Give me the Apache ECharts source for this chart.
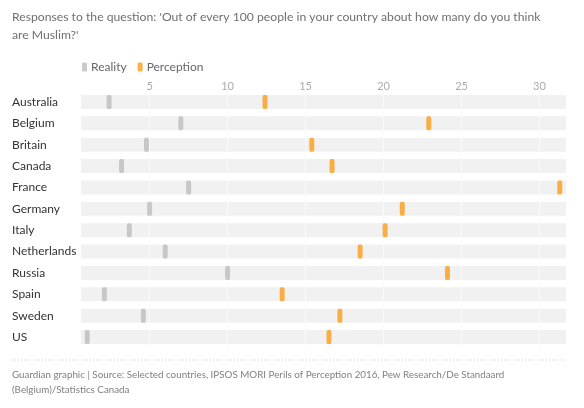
<!DOCTYPE html>
<html><head><meta charset="utf-8">
<script src="https://cdn.jsdelivr.net/npm/echarts@6/dist/echarts.min.js"></script>
<style>html,body{margin:0;padding:0;background:#fff}#c{width:584px;height:408px}</style>
</head><body><div id="c"></div>
<script>
const countries = ['Australia','Belgium','Britain','Canada','France','Germany','Italy','Netherlands','Russia','Spain','Sweden','US'];
const reality = [2.4, 7, 4.8, 3.2, 7.5, 5, 3.7, 6, 10, 2.1, 4.6, 1];
const perception = [12.4, 22.9, 15.4, 16.7, 31.3, 21.2, 20.1, 18.5, 24.1, 13.5, 17.2, 16.5];
const tickValues = [5, 10, 15, 20, 25, 30];
const titleText = "Responses to the question: 'Out of every 100 people in your country about how many do you think\nare Muslim?'";
const footerText = "Guardian graphic | Source: Selected countries, IPSOS MORI Perils of Perception 2016, Pew Research/De Standaard\n(Belgium)/Statistics Canada";

const FONT = 'Lato';
const chart = echarts.init(document.getElementById('c'));
const axisMin = 0.6, axisMax = 31.7;
chart.setOption({
  animation: false,
  textStyle: { fontFamily: FONT },
  legend: {
    left: 77, top: 56, itemWidth: 5, itemHeight: 9, itemGap: 11,
    icon: 'roundRect',
    data: ['Reality', 'Perception'],
    textStyle: { color: '#666', fontSize: 12, fontFamily: FONT, padding: [0, 0, 0, -1] }
  },
  grid: { left: 81, right: 18, top: 91.3, bottom: 60.3, containLabel: false },
  xAxis: {
    type: 'value', position: 'top', min: axisMin, max: axisMax,
    axisLine: { show: false },
    axisTick: { show: true, inside: true, length: 4, customValues: tickValues, lineStyle: { color: '#ccc' } },
    axisLabel: { customValues: tickValues, color: '#aaa', fontSize: 11, margin: -1, fontFamily: FONT },
    splitLine: { show: false }
  },
  yAxis: {
    type: 'category', data: countries, inverse: true,
    axisLine: { show: false }, axisTick: { show: false },
    axisLabel: { align: 'left', margin: 69, color: '#333', fontSize: 12, fontFamily: FONT },
    splitLine: { show: false }
  },
  series: [
    {
      name: 'band', type: 'bar', barWidth: 14, silent: true, clip: true,
      itemStyle: { color: '#f1f1f1' },
      data: countries.map(() => axisMax),
      markLine: {
        silent: true, symbol: 'none', label: { show: false },
        lineStyle: { color: '#fafafa', width: 1, type: 'solid' },
        data: tickValues.map(v => ({ xAxis: v }))
      }
    },
    {
      name: 'Reality', type: 'scatter', symbol: 'roundRect', symbolSize: [5, 14],
      itemStyle: { color: '#bdbdbd' }, z: 5,
      data: reality.map((v, i) => [v, i])
    },
    {
      name: 'Perception', type: 'scatter', symbol: 'roundRect', symbolSize: [5, 14],
      itemStyle: { color: '#fb9d1a' }, z: 6,
      data: perception.map((v, i) => [v, i])
    }
  ],
  graphic: [
    { type: 'text', left: 12, top: 8, style: { text: titleText, fill: '#707070', font: '12.2px ' + FONT, lineHeight: 18 } },
    { type: 'line', shape: { x1: 12, y1: 360, x2: 566, y2: 360 }, style: { stroke: '#c8c8c8', lineWidth: 1, lineDash: [1, 2] } },
    { type: 'text', left: 12, top: 367, style: { text: footerText, fill: '#808080', font: '9.8px ' + FONT, lineHeight: 15 } }
  ]
});
</script></body></html>
